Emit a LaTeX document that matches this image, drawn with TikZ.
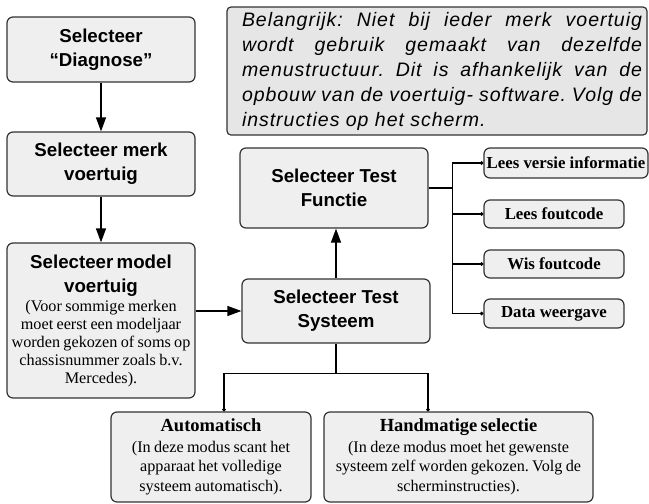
\documentclass[tikz,border=0pt]{standalone}
\usepackage{fontspec}
\setmainfont{Liberation Serif}
\setsansfont{Liberation Sans}
\frenchspacing
\usetikzlibrary{arrows.meta}
\definecolor{boxfill}{HTML}{EEEFEE}
\definecolor{notefill}{HTML}{E6E6E6}
\definecolor{boxline}{HTML}{333333}
\newcommand\hfnt{\sffamily\bfseries\fontsize{18.7}{24}\selectfont}
\newcommand\dfnt{\rmfamily\fontsize{16.2}{18}\selectfont}
\newcommand\dfntb{\rmfamily\fontsize{16.2}{19.5}\selectfont}
\newcommand\tfnt{\rmfamily\bfseries\fontsize{16.8}{20}\selectfont}
\newcommand\bfnt{\rmfamily\bfseries\fontsize{18.5}{22}\selectfont}
\newcommand\notefnt{\sffamily\itshape\fontsize{19.5}{25}\selectfont\addfontfeatures{LetterSpace=5}}
\begin{document}
\begin{tikzpicture}[x=1pt,y=-1pt,
  box/.style={draw=boxline, fill=boxfill, line width=1.2pt, rounded corners=6pt, inner sep=0pt, align=center, text=black},
  arr/.style={line width=1.2pt, draw=black, -{Triangle[length=14pt,width=10pt]}},
  conn/.style={line width=1.2pt, draw=black},
  dotline/.style={line width=1.2pt, draw=black, -{Circle[length=3.5pt,width=3.5pt]}}]
\useasboundingbox (0,0) rectangle (649,504);

% note
\node[draw=boxline, fill=notefill, line width=1.2pt, rounded corners=4pt, inner sep=0pt,
      minimum width=420pt, minimum height=128pt] (note) at (437,71)
  {\hspace*{10pt}\parbox{400pt}{\notefnt Belangrijk: Niet bij ieder merk voertuig\linebreak
   wordt gebruik gemaakt van dezelfde\linebreak
   menustructuur. Dit is afhankelijk van de\linebreak
   opbouw van de voertuig- software. Volg de\linebreak
   instructies op het scherm.}};

% left column
\node[box, font=\hfnt, minimum width=188pt, minimum height=65pt] (diag) at (101,49.5) {Selecteer\\“Diagnose”};
\node[box, font=\hfnt, minimum width=188pt, minimum height=64pt] (merk) at (101,164) {Selecteer merk\\voertuig};
\node[box, text width=188pt, minimum height=155pt] (model) at (101,320.5)
  {{\hfnt Selecteer model\\voertuig\par}\vspace{1pt}%
   {\dfnt (Voor sommige merken\\moet eerst een modeljaar\\worden gekozen of soms op\\chassisnummer zoals b.v.\\Mercedes).\par}};

% test boxes
\node[box, font=\hfnt, minimum width=188pt, minimum height=80pt] (fun) at (334,188) {Selecteer Test\\Functie};
\node[box, font=\hfnt, minimum width=188pt, minimum height=64pt] (sys) at (336,311) {Selecteer Test\\Systeem};

% function boxes
\node[box, font=\tfnt, minimum width=164pt, minimum height=30pt] (lv) at (566,163) {Lees versie informatie};
\node[box, font=\tfnt, minimum width=140pt, minimum height=28pt] (lf) at (554,214) {Lees foutcode};
\node[box, font=\tfnt, minimum width=140pt, minimum height=28pt] (wf) at (554,264) {Wis foutcode};
\node[box, font=\tfnt, minimum width=140pt, minimum height=29pt] (dw) at (554,313.5) {Data weergave};

% bottom boxes
\node[box, text width=200pt, minimum height=90pt] (auto) at (211,457)
  {{\bfnt Automatisch\par}\vspace{1pt}%
   {\dfntb (In deze modus scant het\\apparaat het volledige\\systeem automatisch).\par}};
\node[box, text width=269pt, minimum height=90pt] (hand) at (458.5,457)
  {{\bfnt Handmatige selectie\par}\vspace{1pt}%
   {\dfntb (In deze modus moet het gewenste\\systeem zelf worden gekozen. Volg de\\scherminstructies).\par}};

% connectors
\draw[arr] (diag) -- (merk);
\draw[arr] (merk) -- (model);
\draw[arr] (sys.west -| model.east) -- (sys.west);
\draw[arr] (sys.north) -- (sys.north |- fun.south);
\draw[conn] (fun.east) -- ++(24,0) coordinate (fj);
\foreach \b in {lv,lf,wf,dw}{\draw[dotline] (fj) |- (\b.west);}
\draw[conn] (sys.south) -- ++(0,30) coordinate (sj);
\draw[dotline] (sj) -| ([xshift=13pt]auto.north);
\draw[dotline] (sj) -| ([xshift=-30.5pt]hand.north);
\end{tikzpicture}
\end{document}
